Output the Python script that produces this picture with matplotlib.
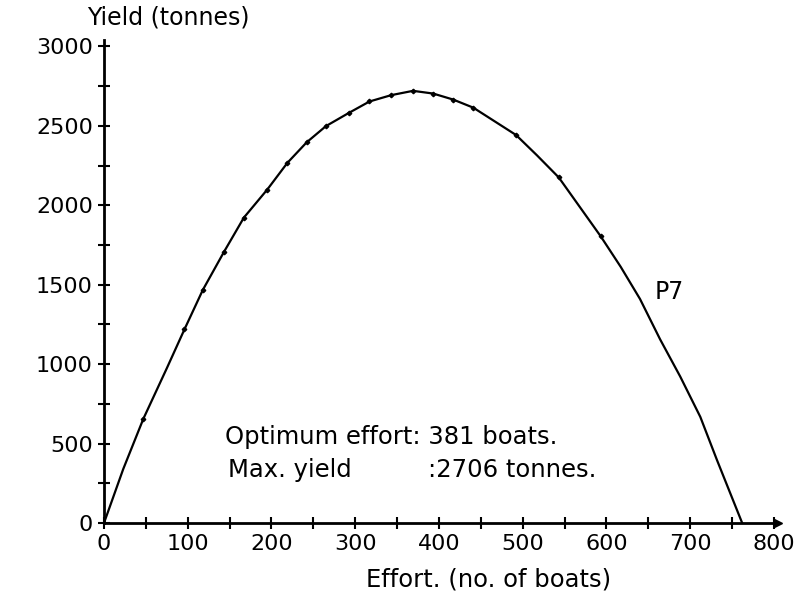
import matplotlib
matplotlib.use("Agg")
import matplotlib.pyplot as plt
from matplotlib.ticker import MultipleLocator

# Data
effort = [0, 23, 47, 75, 96, 118, 143, 167, 195, 219, 242, 265, 292, 317,
          343, 369, 393, 417, 441, 492, 517, 543, 593, 617, 640, 664, 688,
          712, 732, 762]
yield_t = [0, 340, 656, 974, 1218, 1467, 1704, 1922, 2099, 2267, 2396, 2498,
           2580, 2653, 2693, 2720, 2703, 2665, 2614, 2442, 2314, 2175, 1805,
           1612, 1410, 1156, 922, 668, 395, 0]
marker_effort = [47, 96, 118, 143, 167, 195, 219, 242, 265, 292, 317, 343,
                 369, 393, 417, 441, 492, 543, 593]
marker_yield = [656, 1218, 1467, 1704, 1922, 2099, 2267, 2396, 2498, 2580,
                2653, 2693, 2720, 2703, 2665, 2614, 2442, 2175, 1805]
x_ticks = [0, 100, 200, 300, 400, 500, 600, 700, 800]
y_ticks = [0, 500, 1000, 1500, 2000, 2500, 3000]

fig = plt.figure(figsize=(8.04, 6.03), dpi=100)
ax = fig.add_axes([104/804, 1-523/603, (774-104)/804, (523-40)/603])
ax.set_xlim(0, 800)
ax.set_ylim(0, 3040)

ax.plot(effort, yield_t, color="black", lw=1.6, solid_joinstyle="round")
ax.plot(marker_effort, marker_yield, "D", color="black", ms=2.3)

for s in ["top", "right"]:
    ax.spines[s].set_visible(False)
ax.spines["left"].set_linewidth(2)
ax.spines["bottom"].set_linewidth(2)
ax.plot([805], [0], marker=">", color="black", ms=6, clip_on=False)

ax.set_xticks(x_ticks)
ax.set_yticks(y_ticks)
ax.xaxis.set_minor_locator(MultipleLocator(50))
ax.yaxis.set_minor_locator(MultipleLocator(250))
ax.tick_params(which="both", direction="inout", width=1.5, colors="black")
ax.tick_params(which="major", length=8, labelsize=16, pad=4)
ax.tick_params(which="minor", length=8)

fig.text(87/804, 1-18/603, "Yield (tonnes)", fontsize=17, va="center", ha="left")
fig.text(489/804, 1-580/603, "Effort. (no. of boats)", fontsize=17.5, va="center", ha="center")

ax.text(145, 540, "Optimum effort: 381 boats.", fontsize=17.5, va="center")
ax.text(148, 334, "Max. yield", fontsize=17.5, va="center")
ax.text(387, 334, ":2706 tonnes.", fontsize=17.5, va="center")
ax.text(658, 1455, "P7", fontsize=17, va="center")

fig.savefig("out.png", dpi=100, facecolor="white")
